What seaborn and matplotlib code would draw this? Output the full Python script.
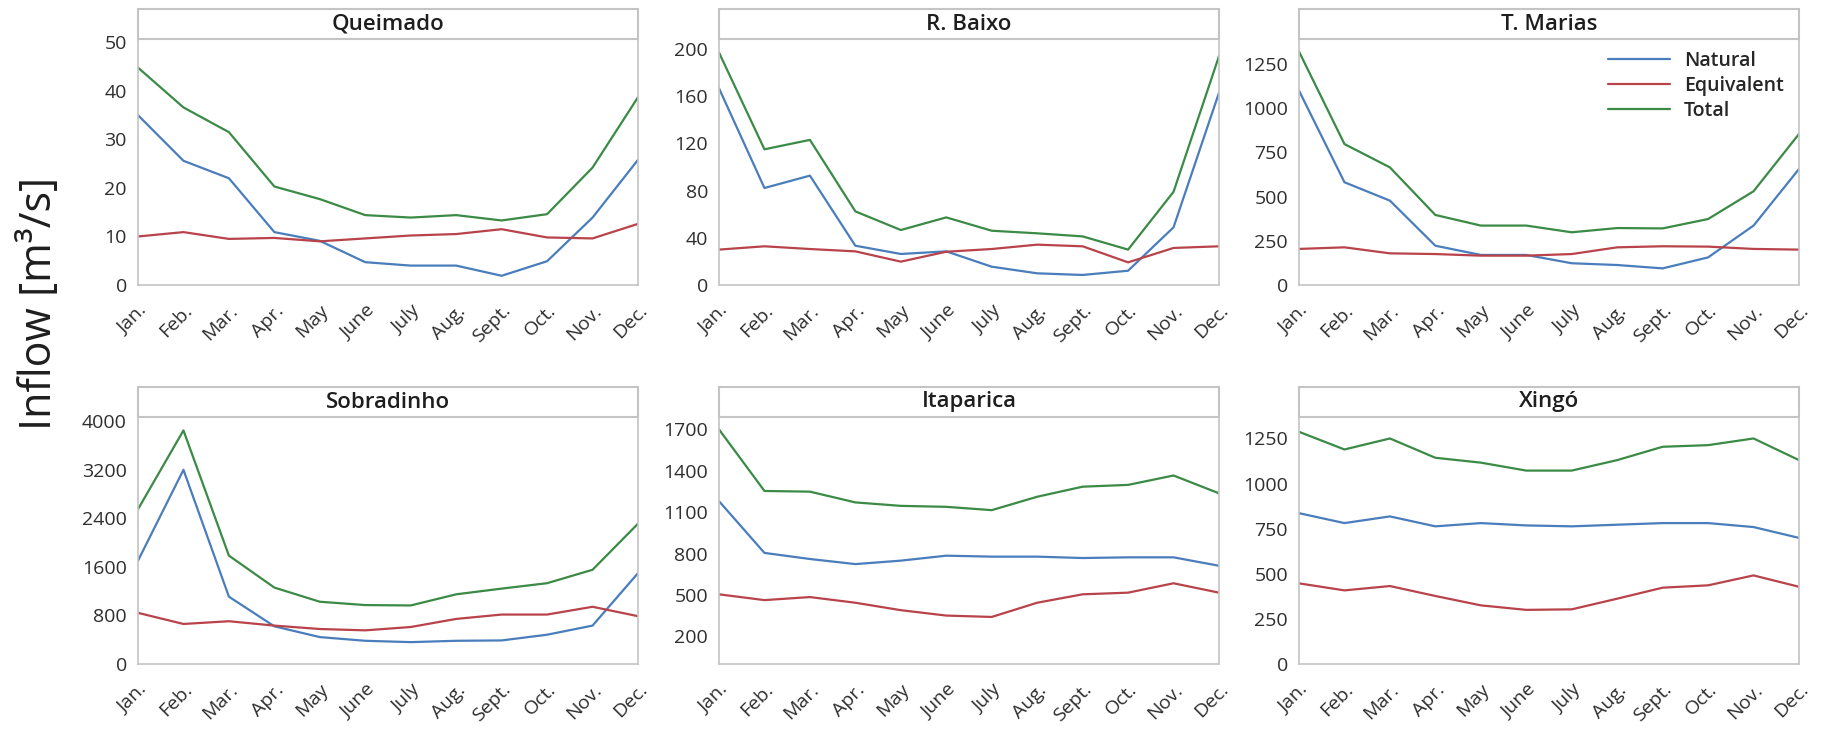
import matplotlib
matplotlib.use("Agg")
import matplotlib.pyplot as plt
import pandas as pd
import seaborn as sns
from matplotlib.lines import Line2D
from matplotlib.patches import Rectangle

# Monthly mean inflows (m3/s) per reservoir
months = ["Jan.", "Feb.", "Mar.", "Apr.", "May", "June", "July", "Aug.", "Sept.", "Oct.", "Nov.", "Dec."]
stations = ["Queimado", "R. Baixo", "T. Marias", "Sobradinho", "Itaparica", "Xingó"]
series_names = ["Natural", "Equivalent", "Total"]

queimado_natural = [35.0, 25.6, 22.0, 10.9, 9.1, 4.7, 4.0, 4.0, 1.9, 4.9, 13.9, 25.8]
queimado_equivalent = [10.0, 10.9, 9.5, 9.7, 9.0, 9.6, 10.2, 10.5, 11.5, 9.8, 9.6, 12.6]
queimado_total = [44.8, 36.6, 31.5, 20.3, 17.7, 14.4, 13.9, 14.4, 13.3, 14.6, 24.2, 38.7]

rbaixo_natural = [166.7, 82.2, 92.7, 33.3, 26.3, 28.5, 15.5, 9.9, 8.5, 12.1, 48.9, 163.0]
rbaixo_equivalent = [30.0, 32.8, 30.5, 28.5, 19.8, 28.2, 30.5, 34.2, 32.8, 19.2, 31.4, 32.8]
rbaixo_total = [197.0, 115.0, 123.0, 62.4, 46.6, 57.3, 46.0, 43.8, 41.2, 30.0, 79.0, 194.0]

tmarias_natural = [1099, 581, 477, 222, 170, 170, 123, 113, 94, 156, 336, 656]
tmarias_equivalent = [204, 213, 179, 175, 166, 166, 175, 213, 219, 217, 204, 200]
tmarias_total = [1320, 797, 665, 396, 336, 336, 298, 322, 320, 373, 530, 854]

sobradinho_natural = [1701, 3197, 1108, 620, 443, 382, 360, 382, 388, 482, 632, 1496]
sobradinho_equivalent = [842, 659, 704, 632, 576, 554, 609, 742, 814, 814, 942, 787]
sobradinho_total = [2548, 3845, 1784, 1258, 1025, 970, 964, 1147, 1241, 1330, 1551, 2310]

itaparica_natural = [1180, 805, 761, 724, 749, 785, 778, 778, 768, 773, 773, 712]
itaparica_equivalent = [505, 463, 485, 444, 390, 351, 341, 444, 505, 517, 585, 517]
itaparica_total = [1700, 1254, 1249, 1171, 1146, 1139, 1115, 1212, 1285, 1298, 1366, 1237]

xingo_natural = [836, 781, 818, 763, 781, 768, 763, 772, 781, 781, 759, 699]
xingo_equivalent = [447, 408, 432, 377, 325, 300, 303, 362, 423, 436, 491, 428]
xingo_total = [1287, 1189, 1250, 1143, 1116, 1072, 1072, 1130, 1204, 1213, 1250, 1130]

# y-axis ticks for each panel
queimado_ticks = [0, 10, 20, 30, 40, 50]
rbaixo_ticks = [0, 40, 80, 120, 160, 200]
tmarias_ticks = [0, 250, 500, 750, 1000, 1250]
sobradinho_ticks = [0, 800, 1600, 2400, 3200, 4000]
itaparica_ticks = [200, 500, 800, 1100, 1400, 1700]
xingo_ticks = [0, 250, 500, 750, 1000, 1250]

station_data = {
    "Queimado": (queimado_natural, queimado_equivalent, queimado_total),
    "R. Baixo": (rbaixo_natural, rbaixo_equivalent, rbaixo_total),
    "T. Marias": (tmarias_natural, tmarias_equivalent, tmarias_total),
    "Sobradinho": (sobradinho_natural, sobradinho_equivalent, sobradinho_total),
    "Itaparica": (itaparica_natural, itaparica_equivalent, itaparica_total),
    "Xingó": (xingo_natural, xingo_equivalent, xingo_total),
}
station_ticks = {
    "Queimado": queimado_ticks, "R. Baixo": rbaixo_ticks, "T. Marias": tmarias_ticks,
    "Sobradinho": sobradinho_ticks, "Itaparica": itaparica_ticks, "Xingó": xingo_ticks,
}
station_ytop = {
    "Queimado": 50.7, "R. Baixo": 208.5, "T. Marias": 1391,
    "Sobradinho": 4066, "Itaparica": 1790, "Xingó": 1369,
}

rows = []
for st in stations:
    for name, vals in zip(series_names, station_data[st]):
        for i, v in enumerate(vals):
            rows.append({"station": st, "series": name, "month": i, "inflow": v})
df = pd.DataFrame(rows)

palette = {"Natural": "#4a7dbb", "Equivalent": "#b8434a", "Total": "#3b8a46"}

sns.set_theme(style="white")
plt.rcParams["font.family"] = ["Open Sans", "DejaVu Sans"]

W, H = 1821, 729
fig = plt.figure(figsize=(W / 100, H / 100), dpi=100)
fig.patch.set_facecolor("white")

col_left = [138, 719, 1299]
ax_w = 500
row_top = [39, 417]
row_bot = [285, 664]
strip_h = 30
edge = "#c4c4c4"
text_col = "#2e2e2e"

for k, st in enumerate(stations):
    r, c = divmod(k, 3)
    x0 = col_left[c]
    top, bot = row_top[r], row_bot[r]
    h = bot - top
    ax = fig.add_axes([x0 / W, (H - bot) / H, ax_w / W, h / H])
    sub = df[df["station"] == st]
    sns.lineplot(data=sub, x="month", y="inflow", hue="series", hue_order=series_names,
                 palette=palette, linewidth=1.6, ax=ax, legend=False, sort=False)
    ax.set_xlim(0, 11)
    ax.set_ylim(0, station_ytop[st])
    ax.set_xticks(range(12))
    ax.set_xticklabels(months, rotation=45, ha="right", rotation_mode="anchor")
    ax.set_yticks(station_ticks[st])
    ax.set_xlabel("")
    ax.set_ylabel("")
    ax.tick_params(axis="both", labelsize=14, colors=text_col, direction="out")
    ax.tick_params(axis="x", length=9, width=1, color=edge, pad=3)
    ax.tick_params(axis="y", length=5, width=1, color=edge, pad=3)
    for sp in ax.spines.values():
        sp.set_color(edge)
        sp.set_linewidth(1.2)
    ax.grid(False)

    # facet strip above the panel
    sh = strip_h / h
    ax.add_patch(Rectangle((0, 1), 1, sh, transform=ax.transAxes, clip_on=False,
                           facecolor="white", edgecolor=edge, linewidth=1.5))
    ax.text(0.5, 1 + sh / 2, st, transform=ax.transAxes, ha="center", va="center",
            fontsize=16, fontweight="semibold", color="#1e1e1e")

    if st == "T. Marias":
        handles = [Line2D([], [], color=palette[n], linewidth=1.6) for n in series_names]
        ax.legend(handles, series_names, loc="upper left", bbox_to_anchor=(0.618, 0.95),
                  frameon=False, handlelength=3.2, handletextpad=0.7,
                  labelspacing=0.25, borderpad=0, borderaxespad=0,
                  prop={"weight": "semibold", "size": 14})

fig.text(40 / W, 1 - 303 / H, "Inflow [m³/s]", rotation=90, ha="center", va="center",
         fontsize=31, color="#1e1e1e")

fig.savefig("out.png", dpi=100, facecolor="white")
